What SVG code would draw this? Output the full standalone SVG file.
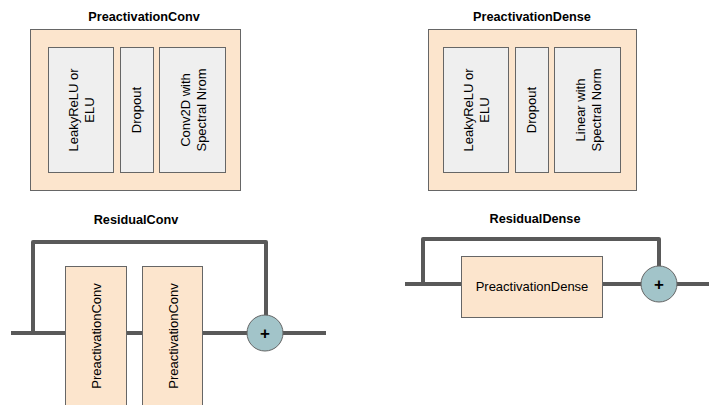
<svg xmlns="http://www.w3.org/2000/svg" width="709" height="405" viewBox="0 0 709 405">
  <style>
    .title { font-family: "Liberation Sans", Arial, sans-serif; font-size: 12.7px; font-weight: bold; fill: #000; text-anchor: middle; }
    .lbl { font-family: "Liberation Sans", Arial, sans-serif; font-size: 13px; fill: #000; text-anchor: middle; }
    .outer { fill: #fce5cd; stroke: #666666; stroke-width: 1; }
    .inner { fill: #efefef; stroke: #666666; stroke-width: 1; }
    .block { fill: #fce5cd; stroke: #666666; stroke-width: 1; }
    .wire { fill: none; stroke: #595959; stroke-width: 4; stroke-linejoin: round; }
    .sum { fill: #a2c4c9; stroke: #666666; stroke-width: 1; }
    .plus { font-family: "Liberation Sans", Arial, sans-serif; font-size: 17px; font-weight: bold; fill: #000; text-anchor: middle; }
  </style>
  <rect width="709" height="405" fill="#ffffff"/>

  <!-- PreactivationConv block -->
  <g id="preactivation-conv">
    <text class="title" x="144" y="21">PreactivationConv</text>
    <rect class="outer" x="30.5" y="29.5" width="210" height="161"/>
    <rect class="inner" x="48.5" y="47.5" width="65" height="125"/>
    <rect class="inner" x="120.5" y="47.5" width="33" height="125"/>
    <rect class="inner" x="159.5" y="47.5" width="66" height="125"/>
    <text class="lbl" transform="translate(81,110) rotate(-90)"><tspan x="0" y="-3.5">LeakyReLU or</tspan><tspan x="0" y="12.5">ELU</tspan></text>
    <text class="lbl" transform="translate(136.5,110) rotate(-90)" x="0" y="4.5">Dropout</text>
    <text class="lbl" transform="translate(193,110) rotate(-90)"><tspan x="0" y="-3.5">Conv2D with</tspan><tspan x="0" y="12.5">Spectral Nrom</tspan></text>
  </g>

  <!-- PreactivationDense block -->
  <g id="preactivation-dense">
    <text class="title" x="532" y="21">PreactivationDense</text>
    <rect class="outer" x="428.5" y="29.5" width="208" height="161"/>
    <rect class="inner" x="443.5" y="47.5" width="65" height="125"/>
    <rect class="inner" x="515.5" y="47.5" width="33" height="125"/>
    <rect class="inner" x="554.5" y="47.5" width="66" height="125"/>
    <text class="lbl" transform="translate(476,110) rotate(-90)"><tspan x="0" y="-3.5">LeakyReLU or</tspan><tspan x="0" y="12.5">ELU</tspan></text>
    <text class="lbl" transform="translate(531.5,110) rotate(-90)" x="0" y="4.5">Dropout</text>
    <text class="lbl" transform="translate(588,110) rotate(-90)"><tspan x="0" y="-3.5">Linear with</tspan><tspan x="0" y="12.5">Spectral Norm</tspan></text>
  </g>

  <!-- connectors -->
  <g id="connectors">
    <!-- ResidualConv main path and skip -->
    <path class="wire" d="M11 333 H326"/>
    <path class="wire" d="M33 333 V242 H266 V316"/>
    <!-- ResidualDense main path and skip -->
    <path class="wire" d="M405 284 H709"/>
    <path class="wire" d="M423 284 V239 H659 V266"/>
  </g>

  <!-- ResidualConv -->
  <g id="residual-conv">
    <text class="title" x="136" y="224">ResidualConv</text>
  </g>
  <g id="rc-block-1">
    <rect class="block" x="65.5" y="266.5" width="61" height="145"/>
    <text class="lbl" transform="translate(96,336) rotate(-90)" x="0" y="5">PreactivationConv</text>
  </g>
  <g id="rc-block-2">
    <rect class="block" x="142.5" y="266.5" width="60" height="145"/>
    <text class="lbl" transform="translate(172.5,336) rotate(-90)" x="0" y="5">PreactivationConv</text>
  </g>
  <g id="rc-sum">
    <circle class="sum" cx="265" cy="333" r="18"/>
    <text class="plus" x="265" y="339">+</text>
  </g>

  <!-- ResidualDense -->
  <g id="residual-dense">
    <text class="title" x="535" y="223">ResidualDense</text>
  </g>
  <g id="rd-block">
    <rect class="block" x="461.5" y="256.5" width="141" height="61"/>
    <text class="lbl" x="532" y="291">PreactivationDense</text>
  </g>
  <g id="rd-sum">
    <circle class="sum" cx="659" cy="284" r="18"/>
    <text class="plus" x="659" y="290">+</text>
  </g>
</svg>
